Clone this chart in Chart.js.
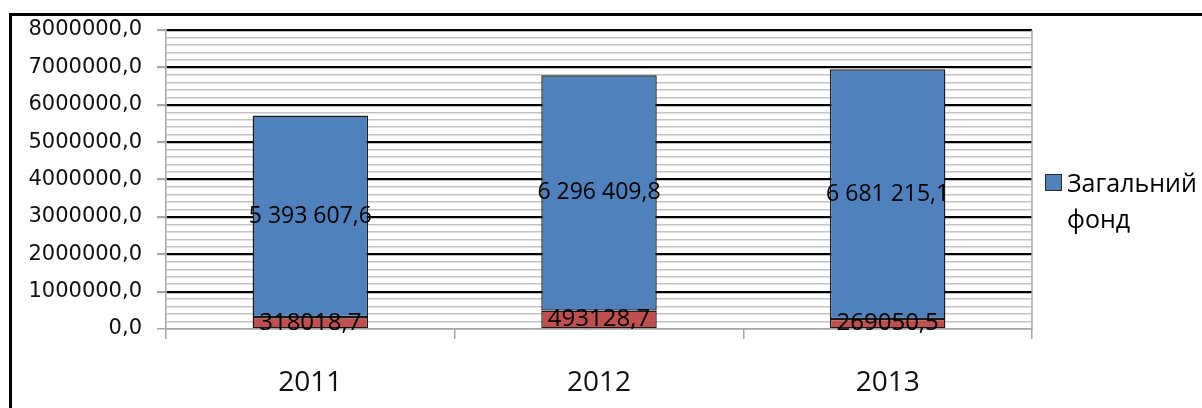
<!DOCTYPE html>
<html>
<head>
<meta charset="utf-8">
<script src="https://cdn.jsdelivr.net/npm/chart.js@4"></script>
<style>
  html, body { margin: 0; padding: 0; background: #fff; }
  #wrap { width: 1202px; height: 408px; position: relative; }
</style>
</head>
<body>
<div id="wrap"><canvas id="c" width="1202" height="408"></canvas></div>
<script>
// ---- data ----
const categories = ['2011', '2012', '2013'];
const specialFund = [318018.7, 493128.7, 269050.5];      // red, bottom
const generalFund = [5393607.6, 6296409.8, 6681215.1];   // blue, top
const legendLines = ['Загальний', 'фонд'];
const yMin = 0;
const yMax = 8000000;
const yMajorStep = 1000000;
const yMinorStep = 200000;

// ---- formatting ----
function fmtPlain(v) {            // 318018,7
  return v.toFixed(1).replace('.', ',');
}
function fmtGrouped(v) {          // 5 393 607,6
  const s = v.toFixed(1).split('.');
  const intPart = s[0].replace(/\B(?=(\d{3})+(?!\d))/g, ' ');
  return intPart + ',' + s[1];
}

const BLUE = '#4F81BD';
const RED = '#C0504D';

const framePlugin = {
  id: 'frame',
  beforeDraw(chart) {
    const ctx = chart.ctx;
    ctx.save();
    ctx.fillStyle = '#fff';
    ctx.fillRect(0, 0, chart.width, chart.height);
    ctx.strokeStyle = '#000';
    ctx.lineWidth = 3;
    ctx.beginPath();
    ctx.moveTo(10.5, chart.height + 5);
    ctx.lineTo(10.5, 14.5);
    ctx.lineTo(chart.width + 5, 14.5);
    ctx.stroke();
    ctx.restore();
  },
  afterDraw(chart) {
    const a = chart.chartArea;
    const ctx = chart.ctx;
    ctx.save();
    ctx.strokeStyle = '#a6a6a6';
    ctx.lineWidth = 1.5;
    ctx.beginPath();
    ctx.moveTo(a.right, a.top);
    ctx.lineTo(a.right, a.bottom);
    ctx.stroke();
    // legend
    const lx = a.right + 13;
    const ly = 174;
    ctx.fillStyle = BLUE;
    ctx.fillRect(lx, ly, 17, 17);
    ctx.strokeStyle = '#2a2a2a';
    ctx.lineWidth = 1;
    ctx.strokeRect(lx + 0.5, ly + 0.5, 16, 16);
    ctx.fillStyle = '#000';
    ctx.font = '25px "Open Sans"';
    ctx.textAlign = 'left';
    ctx.textBaseline = 'alphabetic';
    ctx.fillText(legendLines[0], lx + 22, 192);
    ctx.fillText(legendLines[1], lx + 22, 228);
    ctx.restore();
  }
};

const labelsPlugin = {
  id: 'barLabels',
  afterDatasetsDraw(chart) {
    const ctx = chart.ctx;
    ctx.save();
    ctx.fillStyle = '#000';
    ctx.textAlign = 'center';
    ctx.textBaseline = 'middle';
    chart.data.datasets.forEach((ds, di) => {
      const meta = chart.getDatasetMeta(di);
      meta.data.forEach((el, i) => {
        const v = ds.data[i];
        const txt = di === 0 ? fmtPlain(v) : fmtGrouped(v);
        ctx.font = di === 0 ? '24px "Open Sans"' : '23px "Open Sans"';
        const cy = (el.y + el.base) / 2;
        ctx.fillText(txt, el.x, cy);
      });
    });
    ctx.restore();
  }
};

new Chart(document.getElementById('c'), {
  type: 'bar',
  data: {
    labels: categories,
    datasets: [
      {
        label: 'Спеціальний фонд',
        data: specialFund,
        backgroundColor: RED,
        borderColor: '#1a1a1a',
        borderWidth: 1.4,
        borderSkipped: false,
        barPercentage: 0.4,
        categoryPercentage: 1.0
      },
      {
        label: 'Загальний фонд',
        data: generalFund,
        backgroundColor: BLUE,
        borderColor: '#1a1a1a',
        borderWidth: 1.4,
        borderSkipped: false,
        barPercentage: 0.4,
        categoryPercentage: 1.0
      }
    ]
  },
  options: {
    responsive: false,
    animation: false,
    devicePixelRatio: 1,
    layout: { padding: { left: 0, top: 30, right: 170, bottom: 0 } },
    plugins: {
      legend: { display: false },
      tooltip: { enabled: false },
      title: { display: false }
    },
    scales: {
      x: {
        stacked: true,
        grid: {
          offset: true,
          drawOnChartArea: false,
          drawTicks: true,
          tickLength: 10,
          color: '#a6a6a6',
          lineWidth: 1.5
        },
        border: { display: true, color: '#a6a6a6', width: 1.5 },
        ticks: {
          color: '#111',
          font: { family: 'Open Sans', size: 28 },
          padding: 27
        },
        afterFit(scale) { scale.height = 79; }
      },
      y: {
        stacked: true,
        min: yMin,
        max: yMax,
        ticks: {
          stepSize: yMinorStep,
          autoSkip: false,
          color: '#111',
          font: { family: '"DejaVu Sans"', size: 21 },
          padding: 15,
          callback(value) {
            return value % yMajorStep === 0 ? fmtPlain(value) : '';
          }
        },
        grid: {
          drawTicks: true,
          tickLength: 9,
          color(ctx) {
            const v = ctx.tick ? ctx.tick.value : 0;
            if (v === 0) return '#a6a6a6';
            return v % yMajorStep === 0 ? '#000' : '#c4c4c4';
          },
          lineWidth(ctx) {
            const v = ctx.tick ? ctx.tick.value : 0;
            return v % yMajorStep === 0 && v !== 0 ? 2.2 : 1.4;
          },
          tickColor(ctx) {
            const v = ctx.tick ? ctx.tick.value : 0;
            return v % yMajorStep === 0 ? '#a6a6a6' : 'rgba(0,0,0,0)';
          }
        },
        border: { display: true, color: '#a6a6a6', width: 1.5 },
        afterFit(scale) { scale.width = 166; }
      }
    }
  },
  plugins: [framePlugin, labelsPlugin]
});
</script>
</body>
</html>
